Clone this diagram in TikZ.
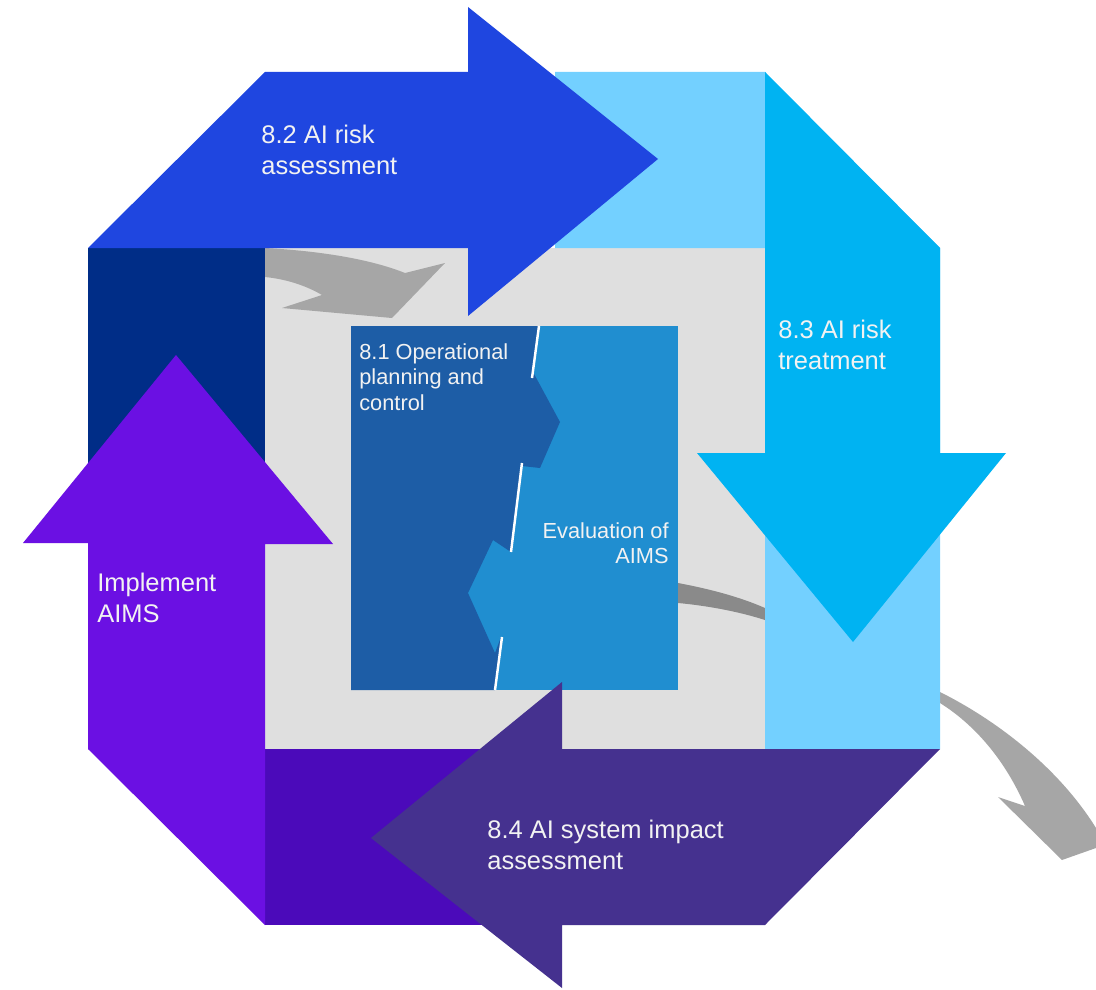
\documentclass[tikz,border=0pt]{standalone}
\usepackage{fontspec}
\setmainfont{Liberation Sans}
\usepackage{xcolor}
\usetikzlibrary{positioning}

\definecolor{bggrey}{HTML}{DFDFDF}
\definecolor{lightsky}{HTML}{73D0FF}
\definecolor{cyanarrow}{HTML}{00B3F2}
\definecolor{topblue}{HTML}{1F46E0}
\definecolor{navyblock}{HTML}{002D87}
\definecolor{violetarrow}{HTML}{6B10E3}
\definecolor{deeppurple}{HTML}{4B0ABA}
\definecolor{impactpurple}{HTML}{45318F}
\definecolor{boxdark}{HTML}{1D5DA6}
\definecolor{boxlight}{HTML}{208ED0}
\definecolor{greyarrow}{HTML}{A6A6A6}
\definecolor{midgrey}{HTML}{8A8A8A}
\definecolor{txt}{HTML}{F2F2F2}

\begin{document}
\begin{tikzpicture}[x=0.02cm, y=-0.02cm,
    bigtext/.style={anchor=north west, align=left, inner sep=0, text=txt,
      font=\fontsize{14.5}{17.5}\selectfont},
    smalltext/.style={inner sep=0, text=txt, font=\fontsize{12.4}{14.6}\selectfont},
    cut/.style={white, line width=1.4pt}]
      \useasboundingbox (0,0) rectangle (1096,990);
      \fill[white] (0,0) rectangle (1096,990);

      % inner field and grey flow arrows
      \fill[bggrey] (265,248) rectangle (765,749);
      \fill[midgrey] (678,583) .. controls (710,589) and (740,597) .. (765,608) -- (765,620) .. controls (740,612) and (710,606) .. (678,603) -- cycle;
      \fill[greyarrow] (265,248) .. controls (320,251) and (370,259) .. (405,273) -- (445,263) -- (392,318) -- (282,308) -- (322,295) .. controls (305,285) and (285,279) .. (265,277) -- cycle;
      \fill[greyarrow] (940,692) .. controls (1000,722) and (1060,770) .. (1096,828) -- (1096,848) -- (1062,860) -- (998,797) -- (1025,806) .. controls (1005,760) and (975,725) .. (940,703) -- cycle;

      % corner blocks
      \fill[lightsky] (555,72) -- (765,72) -- (940,248) -- (940,749) -- (765,749) -- (765,248) -- (555,248) -- cycle;
      \fill[navyblock] (88,248) rectangle (265,560);
      \fill[deeppurple] (265,749) rectangle (562,925);

      % centre box
      \fill[boxlight] (351,326) rectangle (678,690);
      \fill[boxdark] (351,326) -- (539,326) -- (533,372) -- (560,422) -- (540,468) -- (522,466) -- (511,552) -- (493,540) -- (468,593) -- (495,653) -- (501,637) -- (495,690) -- (351,690) -- cycle;
      \draw[cut] (539,326) -- (532,378);
      \draw[cut] (522,463) -- (511,552);
      \draw[cut] (502,637) -- (495,690);

      % the four big arrows
      \fill[topblue] (88,248) -- (265,72) -- (468,72) -- (468,7) -- (658,159) -- (468,316) -- (468,248) -- cycle;
      \fill[cyanarrow] (765,72) -- (940,248) -- (940,453) -- (1006,453) -- (853,642) -- (697,453) -- (765,453) -- cycle;
      \fill[impactpurple] (940,749) -- (765,925) -- (562,925) -- (562,988) -- (371,838) -- (562,682) -- (562,749) -- cycle;
      \fill[violetarrow] (265,925) -- (88,749) -- (88,543) -- (23,543) -- (176,355) -- (333,544) -- (265,544) -- cycle;

      \node[bigtext] at (261,125) (riskassess) {8.2 AI risk\\assessment};
      \node[bigtext] at (778,320) (risktreat) {8.3 AI risk\\treatment};
      \node[bigtext] at (487,820) (impact) {8.4 AI system impact\\assessment};
      \node[bigtext] at (97,573) (implement) {Implement\\AIMS};
      \node[smalltext, anchor=north west, align=left] at (359,343) (opplan) {8.1 Operational\\planning and\\control};
      \node[smalltext, anchor=north east, align=right] at (669,522) (evalaims) {Evaluation of\\AIMS};
    \end{tikzpicture}
\end{document}
